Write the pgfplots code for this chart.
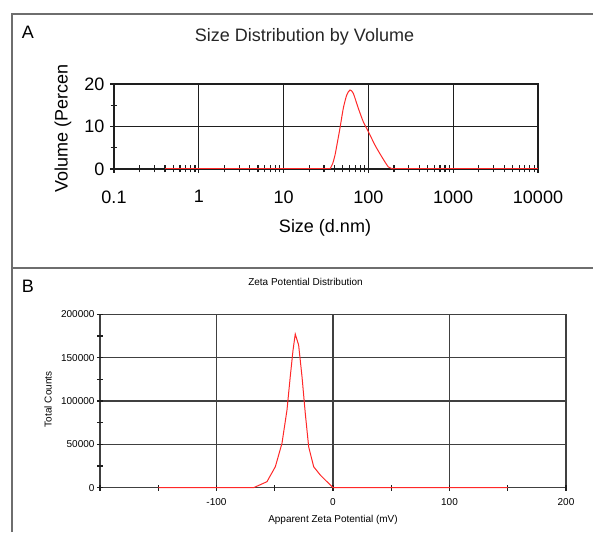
\documentclass[border=0pt]{standalone}
\usepackage{pgfplots}
\pgfplotsset{compat=1.18}
\usepackage{fontspec}
\setmainfont{Liberation Sans}
\definecolor{bordergray}{RGB}{110,110,110}
\definecolor{gridc}{RGB}{30,30,30}
\definecolor{curve}{RGB}{255,40,40}
\newcommand{\bigf}{\fontsize{18}{20}\selectfont}
\newcommand{\smallf}{\fontsize{10}{12}\selectfont}
\begin{document}
\begin{tikzpicture}[x=1pt,y=1pt]
\path[use as bounding box] (0,0) rectangle (593,532);
% panel frames
\draw[line width=2pt, bordergray] (12,0) -- (12,518) -- (593,518);
\draw[line width=2pt, bordergray] (12,264) -- (593,264);
\node[font=\bigf] at (28,500) {A};
\node[font=\bigf] at (28,246) {B};
% ---------------- Panel A ----------------
\node[font=\bigf, text=black!85] at (304.5,494.7) {Size Distribution by Volume};
\node[font=\bigf, rotate=90] at (63,403.5) {Volume (Percen};
\node[font=\bigf] at (325,304) {Size (d.nm)};
\begin{axis}[
  at={(114pt,363pt)}, anchor=south west, scale only axis,
  width=424pt, height=85pt,
  xmode=log, xmin=0.1, xmax=10000, ymin=0, ymax=20,
  clip=false, axis on top=false,
  xtick={0.1,1,10,100,1000,10000},
  xticklabels={0.1,1,10,100,1000,10000},
  minor xtick={0.2,0.3,0.4,0.5,0.6,0.7,0.8,0.9,2,3,4,5,6,7,8,9,20,30,40,50,60,70,80,90,200,300,400,500,600,700,800,900,2000,3000,4000,5000,6000,7000,8000,9000},
  ytick={0,10,20}, yticklabels={0,10,20},
  minor ytick={5,15},
  xtick pos=lower, ytick pos=left,
  grid=major,
  major grid style={line width=1.3pt, gridc, line cap=rect},
  axis line style={draw=none},
  tick style={line width=1.2pt, gridc},
  major tick length=8pt, minor tick length=7pt,
  tick align=center,
  tick label style={font=\bigf},
  /pgf/number format/assume math mode=true,
  xticklabel style={yshift=-14pt},
  yticklabel style={xshift=-2pt},
]
\addplot[curve, line width=1pt] coordinates {(0.4,0) (35.2,0)};
\addplot[curve, line width=1pt, smooth, tension=0.4] coordinates {
(35.2,0) (37.8,1.2) (40.4,3.3) (43.2,6.4) (46.2,9.6) (50.6,14.3) (55.5,17.4)
(60.7,18.6) (66.4,17.8) (76.0,14.3) (87.1,11.1) (99.8,8.8) (119.7,5.6)
(143.5,2.9) (171.8,0.5) (196.8,0)};
\addplot[curve, line width=1pt] coordinates {(196.8,0) (10000,0)};
\end{axis}
% ---------------- Panel B ----------------
\node[font=\smallf] at (305.5,250) {Zeta Potential Distribution};
\node[font=\smallf, rotate=90] at (48,132.7) {Total Counts};
\node[font=\smallf] at (333,12.3) {Apparent Zeta Potential (mV)};
\begin{axis}[
  at={(100pt,44.3pt)}, anchor=south west, scale only axis,
  width=466pt, height=173.4pt,
  xmin=-200, xmax=200, ymin=0, ymax=200000,
  clip=false, axis on top=false,
  xtick={-200,-100,0,100,200}, xticklabels={,-100,0,100,200},
  minor xtick={-150,-50,50,150},
  ytick={0,50000,100000,150000,200000},
  yticklabels={0,50000,100000,150000,200000},
  minor ytick={25000,75000,125000,175000},
  xtick pos=lower, ytick pos=left,
  scaled y ticks=false, scaled x ticks=false,
  grid=major,
  major grid style={line width=1.1pt, gridc!85, line cap=rect},
  axis line style={draw=none},
  tick style={line width=1.1pt, gridc},
  major tick length=6pt, minor tick length=6pt,
  tick align=center,
  tick label style={font=\smallf},
  /pgf/number format/assume math mode=true,
  xticklabel style={yshift=-4pt},
  yticklabel style={xshift=1pt},
]
\addplot[curve, line width=1pt] coordinates {
(-150,0) (-68.2,0) (-56.7,6900) (-49.5,24200) (-43.8,51200) (-39.5,89600)
(-36.7,128000) (-34.3,158800) (-32.4,177200) (-29.5,164500) (-26.6,128000)
(-23.8,85800) (-20.9,47300) (-16.6,24200) (-10.9,14600) (-2.3,3100) (0,0) (150,0)};
\end{axis}
\end{tikzpicture}
\end{document}
